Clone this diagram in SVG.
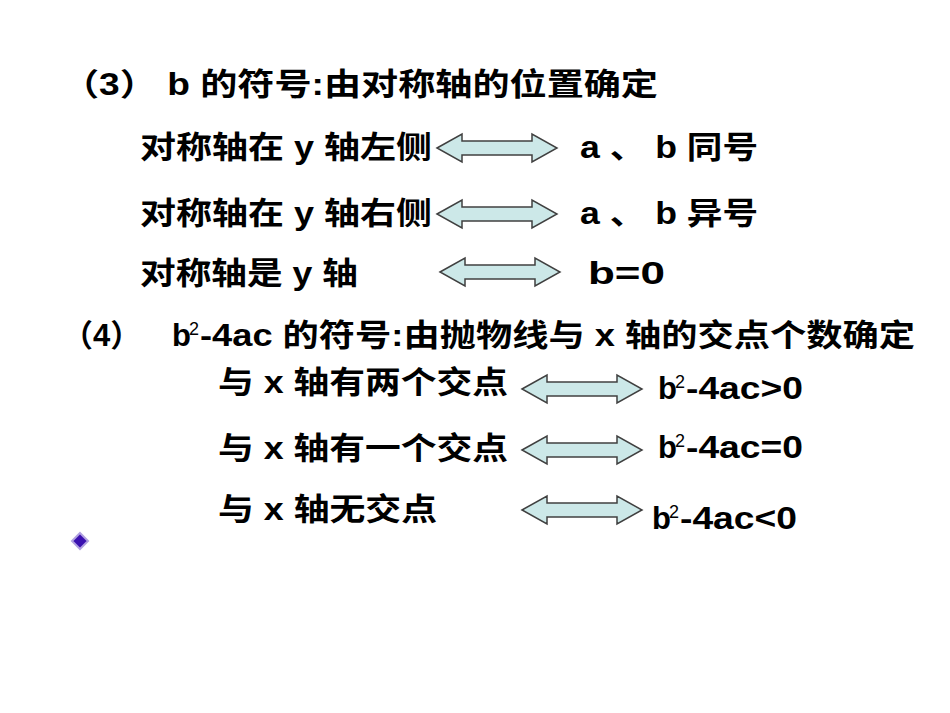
<svg xmlns="http://www.w3.org/2000/svg" width="950" height="713" viewBox="0 0 950 713">
<style>
text{font-family:"Liberation Sans","Noto Sans CJK SC",sans-serif;font-size:31px;font-weight:bold;fill:#000}
text.s{font-size:18px;font-weight:normal}
.ar{fill:#cce8e8;stroke:#404040;stroke-width:1.5}
</style>
<defs>
<polygon id="arr" points="0,0 25,-14 25,-7 95,-7 95,-14 120,0 95,14 95,7 25,7 25,14"/>
</defs>
<rect width="950" height="713" fill="#fff"/>
<g id="connectors">
<use href="#arr" class="ar" x="437" y="148"/>
<use href="#arr" class="ar" x="437" y="214"/>
<use href="#arr" class="ar" x="440" y="272"/>
<use href="#arr" class="ar" x="522" y="389"/>
<use href="#arr" class="ar" x="522" y="450"/>
<use href="#arr" class="ar" x="522" y="510"/>
</g>
<g id="texts">
<text x="62" y="95" textLength="596" lengthAdjust="spacingAndGlyphs">（3） b 的符号:由对称轴的位置确定</text>
<text x="140" y="158" textLength="292" lengthAdjust="spacingAndGlyphs">对称轴在 y 轴左侧</text>
<text x="580" y="158" textLength="178" lengthAdjust="spacingAndGlyphs">a 、 b 同号</text>
<text x="140" y="224" textLength="292" lengthAdjust="spacingAndGlyphs">对称轴在 y 轴右侧</text>
<text x="580" y="224" textLength="178" lengthAdjust="spacingAndGlyphs">a 、 b 异号</text>
<text x="140" y="284" textLength="218" lengthAdjust="spacingAndGlyphs">对称轴是 y 轴</text>
<text x="588" y="284" textLength="77" lengthAdjust="spacingAndGlyphs">b=0</text>
<text x="62" y="346">（4）</text>
<text x="172" y="346">b</text><text class="s" x="189" y="335">2</text>
<text x="200" y="346" textLength="715" lengthAdjust="spacingAndGlyphs">-4ac 的符号:由抛物线与 x 轴的交点个数确定</text>
<text x="218" y="393" textLength="290" lengthAdjust="spacingAndGlyphs">与 x 轴有两个交点</text>
<text x="658" y="399">b</text><text class="s" x="675" y="388">2</text>
<text x="686" y="399" textLength="117" lengthAdjust="spacingAndGlyphs">-4ac&gt;0</text>
<text x="218" y="459" textLength="290" lengthAdjust="spacingAndGlyphs">与 x 轴有一个交点</text>
<text x="658" y="458">b</text><text class="s" x="675" y="447">2</text>
<text x="686" y="458" textLength="117" lengthAdjust="spacingAndGlyphs">-4ac=0</text>
<text x="218" y="520" textLength="219" lengthAdjust="spacingAndGlyphs">与 x 轴无交点</text>
<text x="652" y="529">b</text><text class="s" x="669" y="518">2</text>
<text x="680" y="529" textLength="117" lengthAdjust="spacingAndGlyphs">-4ac&lt;0</text>
</g>
<polygon points="80,533 88,541 80,549 72,541" fill="#3a10b0" stroke="#b0a0e0" stroke-width="2"/>
</svg>
